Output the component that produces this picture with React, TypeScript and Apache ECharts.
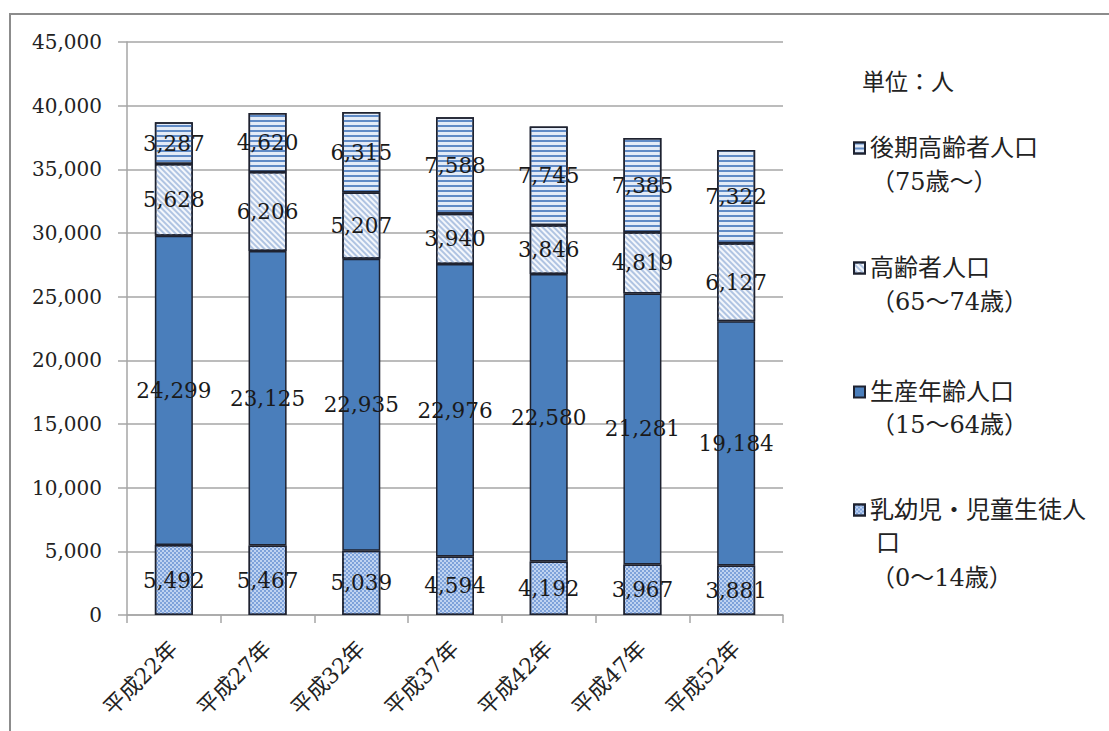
import React, { useEffect, useRef } from "react";
import * as echarts from "echarts";

// Year categories and population by age group (people)
const categories = ["平成22年", "平成27年", "平成32年", "平成37年", "平成42年", "平成47年", "平成52年"];
const infantChild = [5492, 5467, 5039, 4594, 4192, 3967, 3881];
const workingAge = [24299, 23125, 22935, 22976, 22580, 21281, 19184];
const elderly = [5628, 6206, 5207, 3940, 3846, 4819, 6127];
const lateElderly = [3287, 4620, 6315, 7588, 7745, 7385, 7322];

const seriesNames = [
  "乳幼児・児童生徒人口（0～14歳）",
  "生産年齢人口（15～64歳）",
  "高齢者人口（65～74歳）",
  "後期高齢者人口（75歳～）",
];
const legendFirstLines: Record<string, string> = {
  [seriesNames[0]]: "乳幼児・児童生徒人",
  [seriesNames[1]]: "生産年齢人口",
  [seriesNames[2]]: "高齢者人口",
  [seriesNames[3]]: "後期高齢者人口",
};
const yTicks = { min: 0, max: 45000, interval: 5000 };

const NUM_FONT = "'DejaVu Serif', 'Noto Sans CJK JP', serif";
const JP_FONT = "'DejaVu Serif', 'Noto Sans CJK JP', sans-serif";
const BORDER = "#1e2230";
const GRID_GRAY = "#a6a6a6";

export default function App() {
  const ref = useRef<HTMLDivElement>(null);

  useEffect(() => {
    if (!ref.current) return;
    const chart = echarts.init(ref.current, null, { renderer: "svg" });

    const label = {
      show: true,
      position: "inside",
      fontSize: 21.5,
      fontFamily: NUM_FONT,
      color: "#1a1a1a",
      formatter: (p: any) => Number(p.value).toLocaleString("en-US"),
    };

    const makeSeries = (name: string, data: number[], itemStyle: any) => ({
      name,
      type: "bar",
      stack: "pop",
      barWidth: 38,
      data,
      label,
      itemStyle: { borderColor: BORDER, borderWidth: 1.5, ...itemStyle },
      emphasis: { disabled: true },
    });

    const legendAt = (name: string, top: number) => ({
      data: [name],
      orient: "vertical",
      left: 853,
      top,
      padding: 0,
      icon: "rect",
      itemWidth: 11,
      itemHeight: 11,
      selectedMode: false,
      formatter: (n: string) => legendFirstLines[n] ?? n,
      textStyle: { fontSize: 24, fontFamily: JP_FONT, color: "#222" },
    });

    const subText = (text: string, x: number, y: number) => ({
      type: "text",
      x,
      y,
      style: {
        text,
        fontSize: 24,
        fontFamily: JP_FONT,
        fill: "#222",
        verticalAlign: "middle",
      },
    });

    chart.setOption({
      animation: false,
      backgroundColor: "#ffffff",
      grid: { left: 127, right: 326, top: 42, bottom: 116 },
      xAxis: {
        type: "category",
        data: categories,
        axisLine: { lineStyle: { color: GRID_GRAY, width: 1.5 } },
        axisTick: { show: true, length: 8, lineStyle: { color: GRID_GRAY, width: 1.5 } },
        axisLabel: {
          rotate: 45,
          margin: 30,
          fontSize: 22,
          fontFamily: JP_FONT,
          color: "#222",
        },
      },
      yAxis: {
        type: "value",
        min: yTicks.min,
        max: yTicks.max,
        interval: yTicks.interval,
        axisLine: { show: true, lineStyle: { color: GRID_GRAY, width: 1.5 } },
        axisTick: { show: true, length: 9, lineStyle: { color: GRID_GRAY, width: 1.5 } },
        splitLine: { lineStyle: { color: GRID_GRAY, width: 1.5 } },
        axisLabel: {
          margin: 25,
          fontSize: 20,
          fontFamily: NUM_FONT,
          color: "#222",
          formatter: (v: number) => v.toLocaleString("en-US"),
        },
      },
      legend: [
        legendAt(seriesNames[3], 136),
        legendAt(seriesNames[2], 256),
        legendAt(seriesNames[1], 380),
        legendAt(seriesNames[0], 498),
      ],
      graphic: [
        {
          type: "rect",
          z: -10,
          shape: { x: 10, y: 14, width: 1200, height: 800 },
          style: { fill: "transparent", stroke: "#8c8c8c", lineWidth: 2 },
          silent: true,
        },
        {
          type: "text",
          x: 862,
          y: 82,
          style: {
            text: "単位：人",
            fontSize: 23,
            fontFamily: JP_FONT,
            fill: "#222",
            verticalAlign: "middle",
          },
        },
        subText("（75歳～）", 871, 182),
        subText("（65～74歳）", 871, 302),
        subText("（15～64歳）", 871, 425),
        subText("口", 876, 543),
        subText("（0～14歳）", 871, 578),
      ],
      series: [
        makeSeries(seriesNames[0], infantChild, {
          color: "#bfd3f1",
          decal: {
            symbol: "rect",
            symbolSize: 1,
            color: "#7ea2da",
            dashArrayX: [
              [1.5, 1.5],
              [0, 1.5, 1.5, 0],
            ],
            dashArrayY: [1.5, 0],
            rotation: 0,
          },
        }),
        makeSeries(seriesNames[1], workingAge, { color: "#4a7ebb" }),
        makeSeries(seriesNames[2], elderly, {
          color: "#f4f7fc",
          decal: {
            symbol: "rect",
            symbolSize: 1,
            color: "#b0c4e2",
            dashArrayX: [1, 0],
            dashArrayY: [1.5, 2],
            rotation: Math.PI / 4,
          },
        }),
        makeSeries(seriesNames[3], lateElderly, {
          color: "#e3ebf7",
          decal: {
            symbol: "rect",
            symbolSize: 1,
            color: "#5f8ac6",
            dashArrayX: [1, 0],
            dashArrayY: [2, 3],
            rotation: 0,
          },
        }),
      ],
    });

    return () => chart.dispose();
  }, []);

  return (
    <div
      ref={ref}
      style={{ position: "fixed", left: 0, top: 0, width: 1109, height: 731, background: "#fff" }}
    />
  );
}
